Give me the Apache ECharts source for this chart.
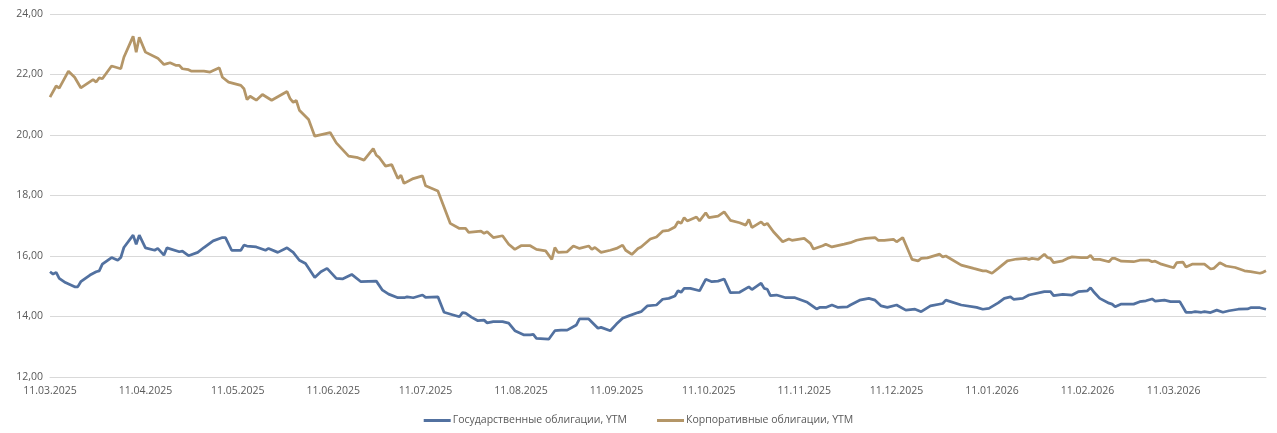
<!DOCTYPE html>
<html lang="ru">
<head>
    <meta charset="utf-8">
    <title>YTM</title>
    <script src="https://cdn.jsdelivr.net/npm/echarts@6/dist/echarts.min.js"></script>
    <style>
        html, body { margin: 0; padding: 0; background: #fff; }
        #chart { width: 1277px; height: 433px; }
    </style>
</head>
<body>
<div id="chart"></div>
<script type="text/javascript">
    // подписи оси X (11-е число каждого месяца)
    var xLabelDates = ['2025-03-11', '2025-04-11', '2025-05-11', '2025-06-11', '2025-07-11', '2025-08-11',
        '2025-09-11', '2025-10-11', '2025-11-11', '2025-12-11', '2026-01-11', '2026-02-11', '2026-03-11'];

    var seriesNames = ['Государственные облигации, YTM', 'Корпоративные облигации, YTM'];

    // Государственные облигации
    var govDates = ['2025-03-11', '2025-03-12', '2025-03-13', '2025-03-14', '2025-03-16', '2025-03-19', '2025-03-20',
        '2025-03-21', '2025-03-24', '2025-03-26', '2025-03-27', '2025-03-28', '2025-03-31', '2025-04-02', '2025-04-03',
        '2025-04-04', '2025-04-07', '2025-04-08', '2025-04-09', '2025-04-11', '2025-04-14', '2025-04-15', '2025-04-17',
        '2025-04-18', '2025-04-22', '2025-04-23', '2025-04-25', '2025-04-28', '2025-04-30', '2025-05-03', '2025-05-06',
        '2025-05-07', '2025-05-09', '2025-05-12', '2025-05-13', '2025-05-14', '2025-05-17', '2025-05-20', '2025-05-21',
        '2025-05-24', '2025-05-27', '2025-05-29', '2025-05-31', '2025-06-02', '2025-06-05', '2025-06-07', '2025-06-09',
        '2025-06-12', '2025-06-14', '2025-06-17', '2025-06-20', '2025-06-25', '2025-06-27', '2025-06-29', '2025-07-02',
        '2025-07-04', '2025-07-05', '2025-07-07', '2025-07-10', '2025-07-11', '2025-07-15', '2025-07-17', '2025-07-20',
        '2025-07-22', '2025-07-23', '2025-07-24', '2025-07-26', '2025-07-28', '2025-07-30', '2025-07-31', '2025-08-02',
        '2025-08-05', '2025-08-07', '2025-08-09', '2025-08-12', '2025-08-14', '2025-08-15', '2025-08-16', '2025-08-20',
        '2025-08-22', '2025-08-24', '2025-08-26', '2025-08-29', '2025-08-30', '2025-09-02', '2025-09-05', '2025-09-06',
        '2025-09-09', '2025-09-11', '2025-09-13', '2025-09-15', '2025-09-18', '2025-09-19', '2025-09-21', '2025-09-24',
        '2025-09-26', '2025-09-28', '2025-09-30', '2025-10-01', '2025-10-02', '2025-10-03', '2025-10-05', '2025-10-08',
        '2025-10-10', '2025-10-12', '2025-10-14', '2025-10-16', '2025-10-18', '2025-10-21', '2025-10-24', '2025-10-25',
        '2025-10-28', '2025-10-29', '2025-10-30', '2025-10-31', '2025-11-02', '2025-11-05', '2025-11-08', '2025-11-12',
        '2025-11-15', '2025-11-16', '2025-11-18', '2025-11-20', '2025-11-22', '2025-11-25', '2025-11-26', '2025-11-29',
        '2025-12-02', '2025-12-04', '2025-12-06', '2025-12-08', '2025-12-11', '2025-12-14', '2025-12-17', '2025-12-19',
        '2025-12-22', '2025-12-26', '2025-12-27', '2026-01-01', '2026-01-06', '2026-01-08', '2026-01-10', '2026-01-13',
        '2026-01-15', '2026-01-17', '2026-01-18', '2026-01-21', '2026-01-23', '2026-01-28', '2026-01-30', '2026-01-31',
        '2026-02-03', '2026-02-06', '2026-02-08', '2026-02-11', '2026-02-12', '2026-02-13', '2026-02-15', '2026-02-18',
        '2026-02-19', '2026-02-20', '2026-02-22', '2026-02-26', '2026-02-28', '2026-03-02', '2026-03-04', '2026-03-05',
        '2026-03-08', '2026-03-10', '2026-03-13', '2026-03-15', '2026-03-17', '2026-03-18', '2026-03-20', '2026-03-21',
        '2026-03-23', '2026-03-25', '2026-03-27', '2026-03-29', '2026-04-01', '2026-04-04', '2026-04-05', '2026-04-08',
        '2026-04-10'];
    var govYtm = [15.48, 15.40, 15.46, 15.26, 15.12, 14.98, 14.98,
        15.15, 15.37, 15.48, 15.51, 15.73, 15.95, 15.86, 15.95,
        16.28, 16.69, 16.39, 16.69, 16.27, 16.19, 16.25, 16.03,
        16.27, 16.14, 16.16, 16.01, 16.12, 16.28, 16.50, 16.61,
        16.61, 16.19, 16.19, 16.36, 16.33, 16.30, 16.19, 16.25,
        16.12, 16.27, 16.12, 15.86, 15.75, 15.29, 15.48, 15.59,
        15.26, 15.24, 15.39, 15.15, 15.17, 14.87, 14.74, 14.62,
        14.62, 14.65, 14.62, 14.71, 14.63, 14.65, 14.14, 14.05,
        13.99, 14.13, 14.11, 13.97, 13.86, 13.88, 13.79, 13.83,
        13.83, 13.78, 13.53, 13.39, 13.39, 13.41, 13.28, 13.25,
        13.53, 13.55, 13.55, 13.72, 13.92, 13.92, 13.61, 13.64,
        13.53, 13.75, 13.94, 14.02, 14.13, 14.16, 14.35, 14.38,
        14.57, 14.60, 14.68, 14.85, 14.80, 14.93, 14.93, 14.85,
        15.23, 15.15, 15.17, 15.24, 14.79, 14.80, 14.98, 14.89,
        15.10, 14.93, 14.90, 14.69, 14.71, 14.62, 14.62, 14.47,
        14.25, 14.30, 14.30, 14.38, 14.30, 14.32, 14.38, 14.54,
        14.60, 14.54, 14.35, 14.30, 14.38, 14.21, 14.24, 14.16,
        14.35, 14.43, 14.54, 14.38, 14.30, 14.24, 14.27, 14.45,
        14.60, 14.65, 14.57, 14.60, 14.71, 14.82, 14.82, 14.69,
        14.73, 14.71, 14.82, 14.85, 14.95, 14.82, 14.60, 14.44,
        14.41, 14.32, 14.41, 14.41, 14.49, 14.52, 14.58, 14.51,
        14.54, 14.49, 14.49, 14.14, 14.14, 14.16, 14.14, 14.16,
        14.13, 14.21, 14.14, 14.19, 14.24, 14.25, 14.29, 14.29,
        14.24];

    // Корпоративные облигации
    var corpDates = ['2025-03-11', '2025-03-13', '2025-03-14', '2025-03-17', '2025-03-19', '2025-03-21', '2025-03-25',
        '2025-03-26', '2025-03-27', '2025-03-28', '2025-03-31', '2025-04-03', '2025-04-04', '2025-04-07', '2025-04-08',
        '2025-04-09', '2025-04-11', '2025-04-15', '2025-04-17', '2025-04-18', '2025-04-19', '2025-04-21', '2025-04-22',
        '2025-04-23', '2025-04-25', '2025-04-26', '2025-04-30', '2025-05-02', '2025-05-05', '2025-05-06', '2025-05-08',
        '2025-05-12', '2025-05-13', '2025-05-14', '2025-05-15', '2025-05-17', '2025-05-19', '2025-05-22', '2025-05-27',
        '2025-05-28', '2025-05-29', '2025-05-30', '2025-05-31', '2025-06-03', '2025-06-05', '2025-06-10', '2025-06-12',
        '2025-06-16', '2025-06-19', '2025-06-21', '2025-06-24', '2025-06-25', '2025-06-26', '2025-06-28', '2025-06-30',
        '2025-07-02', '2025-07-03', '2025-07-04', '2025-07-07', '2025-07-10', '2025-07-11', '2025-07-15', '2025-07-19',
        '2025-07-22', '2025-07-24', '2025-07-25', '2025-07-29', '2025-07-30', '2025-07-31', '2025-08-02', '2025-08-05',
        '2025-08-07', '2025-08-09', '2025-08-11', '2025-08-14', '2025-08-16', '2025-08-19', '2025-08-21', '2025-08-22',
        '2025-08-23', '2025-08-26', '2025-08-28', '2025-08-30', '2025-09-02', '2025-09-03', '2025-09-04', '2025-09-06',
        '2025-09-09', '2025-09-11', '2025-09-13', '2025-09-14', '2025-09-16', '2025-09-18', '2025-09-19', '2025-09-22',
        '2025-09-24', '2025-09-26', '2025-09-28', '2025-09-30', '2025-10-01', '2025-10-02', '2025-10-03', '2025-10-04',
        '2025-10-07', '2025-10-08', '2025-10-10', '2025-10-11', '2025-10-14', '2025-10-16', '2025-10-18', '2025-10-21',
        '2025-10-23', '2025-10-24', '2025-10-25', '2025-10-28', '2025-10-29', '2025-10-30', '2025-11-01', '2025-11-04',
        '2025-11-06', '2025-11-07', '2025-11-11', '2025-11-13', '2025-11-14', '2025-11-17', '2025-11-18', '2025-11-20',
        '2025-11-24', '2025-11-26', '2025-11-28', '2025-12-01', '2025-12-04', '2025-12-05', '2025-12-07', '2025-12-10',
        '2025-12-11', '2025-12-13', '2025-12-16', '2025-12-18', '2025-12-19', '2025-12-21', '2025-12-25', '2025-12-26',
        '2025-12-27', '2026-01-01', '2026-01-05', '2026-01-08', '2026-01-09', '2026-01-11', '2026-01-13', '2026-01-16',
        '2026-01-17', '2026-01-19', '2026-01-22', '2026-01-23', '2026-01-24', '2026-01-26', '2026-01-28', '2026-01-29',
        '2026-01-30', '2026-01-31', '2026-02-03', '2026-02-05', '2026-02-06', '2026-02-09', '2026-02-11', '2026-02-12',
        '2026-02-13', '2026-02-15', '2026-02-18', '2026-02-19', '2026-02-20', '2026-02-22', '2026-02-26', '2026-02-28',
        '2026-03-03', '2026-03-04', '2026-03-05', '2026-03-07', '2026-03-11', '2026-03-12', '2026-03-14', '2026-03-15',
        '2026-03-17', '2026-03-21', '2026-03-23', '2026-03-24', '2026-03-26', '2026-03-28', '2026-03-31', '2026-04-03',
        '2026-04-05', '2026-04-08', '2026-04-09', '2026-04-10'];
    var corpYtm = [21.25, 21.62, 21.55, 22.11, 21.91, 21.56, 21.83,
        21.75, 21.89, 21.86, 22.28, 22.19, 22.57, 23.26, 22.74,
        23.23, 22.74, 22.54, 22.33, 22.36, 22.39, 22.30, 22.30,
        22.19, 22.16, 22.11, 22.11, 22.08, 22.22, 21.91, 21.75,
        21.64, 21.53, 21.17, 21.28, 21.15, 21.34, 21.15, 21.44,
        21.20, 21.08, 21.14, 20.82, 20.51, 19.96, 20.08, 19.74,
        19.30, 19.25, 19.17, 19.55, 19.33, 19.25, 18.97, 19.02,
        18.56, 18.67, 18.40, 18.56, 18.65, 18.32, 18.15, 17.08,
        16.91, 16.91, 16.78, 16.82, 16.75, 16.80, 16.61, 16.67,
        16.39, 16.22, 16.34, 16.34, 16.22, 16.17, 15.89, 16.28,
        16.12, 16.14, 16.33, 16.25, 16.33, 16.22, 16.28, 16.12,
        16.19, 16.25, 16.36, 16.19, 16.05, 16.25, 16.30, 16.56,
        16.63, 16.82, 16.85, 16.96, 17.13, 17.08, 17.27, 17.16,
        17.29, 17.16, 17.43, 17.27, 17.32, 17.46, 17.18, 17.10,
        17.02, 17.21, 16.94, 17.13, 17.02, 17.08, 16.80, 16.47,
        16.56, 16.52, 16.58, 16.42, 16.23, 16.34, 16.39, 16.30,
        16.39, 16.44, 16.52, 16.58, 16.61, 16.52, 16.52, 16.55,
        16.47, 16.61, 15.89, 15.84, 15.92, 15.94, 16.06, 15.97,
        16.00, 15.70, 15.59, 15.51, 15.51, 15.43, 15.59, 15.84,
        15.86, 15.90, 15.92, 15.89, 15.92, 15.89, 16.06, 15.95,
        15.92, 15.78, 15.84, 15.94, 15.97, 15.95, 15.95, 16.02,
        15.89, 15.89, 15.81, 15.92, 15.92, 15.83, 15.81, 15.86,
        15.86, 15.81, 15.83, 15.73, 15.61, 15.78, 15.80, 15.64,
        15.73, 15.73, 15.57, 15.59, 15.78, 15.67, 15.62, 15.51,
        15.48, 15.43, 15.46, 15.51];

    function toDate(s) {
        var p = s.split('-');
        return new Date(+p[0], +p[1] - 1, +p[2]).getTime();
    }

    function pad(n) {
        return n < 10 ? '0' + n : '' + n;
    }

    function zip(dates, values) {
        var out = [];
        for (var i = 0; i < dates.length; i++) {
            out.push([toDate(dates[i]), values[i]]);
        }
        return out;
    }

    var myChart = echarts.init(document.getElementById('chart'));

    var labelValues = xLabelDates.map(toDate);

    var option = {
        animation: false,
        textStyle: {
            fontFamily: '"Open Sans", "Noto Sans", sans-serif'
        },
        grid: {
            left: 50,
            right: 11,
            top: 14,
            bottom: 56
        },
        legend: {
            bottom: 2,
            left: 'center',
            icon: 'rect',
            itemWidth: 27,
            itemHeight: 3,
            itemGap: 30,
            textStyle: {
                color: '#595959',
                fontSize: 10.5,
                padding: [0, 0, 0, -3]
            },
            data: seriesNames
        },
        xAxis: {
            // даты как числа (мс), подписи на 11-е число месяца
            type: 'value',
            min: toDate('2025-03-11'),
            max: toDate('2026-04-10'),
            axisLine: {show: true, lineStyle: {color: '#d9d9d9'}},
            axisTick: {show: false},
            splitLine: {show: false},
            axisLabel: {
                customValues: labelValues,
                color: '#595959',
                fontSize: 10.5,
                margin: 9,
                formatter: function (v) {
                    var d = new Date(v);
                    return pad(d.getDate()) + '.' + pad(d.getMonth() + 1) + '.' + d.getFullYear();
                }
            }
        },
        yAxis: {
            type: 'value',
            min: 12,
            max: 24,
            interval: 2,
            axisLine: {show: false},
            axisTick: {show: false},
            splitLine: {lineStyle: {color: '#d9d9d9'}},
            axisLabel: {
                color: '#595959',
                fontSize: 10.5,
                margin: 7,
                formatter: function (v) {
                    return v.toFixed(2).replace('.', ',');
                }
            }
        },
        series: [
            {
                name: seriesNames[0],
                type: 'line',
                symbol: 'none',
                data: zip(govDates, govYtm),
                lineStyle: {width: 2.75, color: '#5271a0'},
                itemStyle: {color: '#5271a0'}
            },
            {
                name: seriesNames[1],
                type: 'line',
                symbol: 'none',
                data: zip(corpDates, corpYtm),
                lineStyle: {width: 2.75, color: '#b49668'},
                itemStyle: {color: '#b49668'}
            }
        ]
    };

    myChart.setOption(option);
</script>
</body>
</html>
